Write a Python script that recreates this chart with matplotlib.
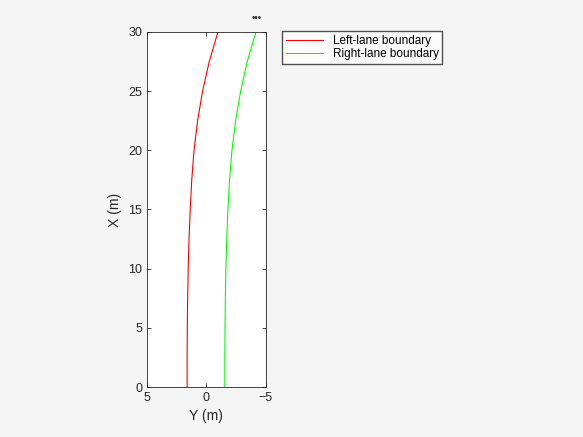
import matplotlib.pyplot as plt

# distance ahead (m) and lateral positions (m)
x_ahead = [0, 2.5, 5, 7.5, 10, 12.5, 15, 17.5, 20, 22.5, 25, 27.5, 30]
y_left = [1.62, 1.62, 1.605, 1.575, 1.53, 1.46, 1.36, 1.23, 1.04, 0.74, 0.32, -0.24, -0.97]
y_right = [-1.55, -1.55, -1.565, -1.595, -1.64, -1.71, -1.81, -1.95, -2.15, -2.46, -2.88, -3.44, -4.16]

plt.rcParams['font.family'] = ['Liberation Sans', 'DejaVu Sans']
fig = plt.figure(figsize=(5.83, 4.37), dpi=100, facecolor='#f5f5f5')
ax = fig.add_axes([0.252, 0.1144, 0.204, 0.8124])

l1, = ax.plot(y_left, x_ahead, color='#ff0000', lw=0.8, label='Left-lane boundary')
l2, = ax.plot(y_right, x_ahead, color='#00ff00', lw=0.8, label='Right-lane boundary')

ax.set_xlim(5, -5)
ax.set_ylim(0, 30)
ax.set_xticks([5, 0, -5])
ax.set_yticks([0, 5, 10, 15, 20, 25, 30])
ax.tick_params(direction='in', top=True, right=True, labelsize=9, length=3, width=0.6, colors='#262626')
for s in ax.spines.values():
    s.set_linewidth(0.6)
    s.set_color('#262626')
ax.set_xlabel('Y (m)', fontsize=10, color='#262626')
ax.set_ylabel('X (m)', fontsize=10, color='#262626')

fig.legend(handles=[l1, l2], loc='upper left', bbox_to_anchor=(0.484, 0.928),
           fontsize=8.5, frameon=True, fancybox=False, edgecolor='#262626',
           borderpad=0.3, handlelength=3.2, labelspacing=0.1, borderaxespad=0)
fig.text(0.44, 0.952, '\u2022\u2022\u2022', fontsize=7, color='#333333', ha='center')

fig.savefig('out.png', dpi=100, facecolor=fig.get_facecolor())
